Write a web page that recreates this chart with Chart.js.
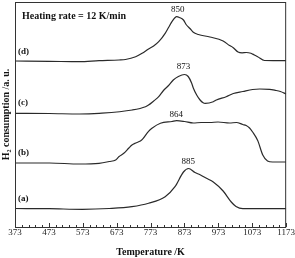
<!DOCTYPE html>
<html>
<head>
<meta charset="utf-8">
<script src="https://cdn.jsdelivr.net/npm/chart.js@4.4.1/dist/chart.umd.min.js"></script>
<style>
html,body{margin:0;padding:0;background:#fff;}
#wrap{width:295px;height:258px;}
</style>
</head>
<body>
<div id="wrap"><canvas id="c" width="295" height="258"></canvas></div>
<script>
// Temperatures (K) and H2 consumption (a.u., vertically offset traces)
const tempA = [373,475,572,651,718,767,816,845,870,885,904,919,938,958,987,1011,1025,1045,1173];
const valA  = [18.5,18.3,17.7,18.5,20.3,23.7,30.3,40.3,55,58.5,54.5,52.3,48.7,45,36,25,20.5,18.3,18.3];

const tempB = [373,475,563,621,651,670,680,694,709,718,729,743,748,767,777,802,836,850,873,899,922,948,972,1006,1026,1045,1055,1065,1074,1089,1104,1118,1133,1173];
const valB  = [64,64,63,63.7,65.5,67,70.5,73.7,79,82,84,86,87.3,95.7,98.7,103.7,105.5,106.3,105.5,104,104.5,104.5,105,104,104.5,102.5,101.5,99,95,86.5,72,66,65,65];

const tempC = [373,475,563,621,719,758,767,782,797,811,826,840,855,873,884,894,899,909,919,928,934,958,967,996,1017,1045,1074,1095,1124,1141,1156,1173];
const valC  = [113.7,113.5,113,113.7,117,120.3,122,126,130.3,136.5,141.5,147,150.5,152.5,150.5,144,139,132,127,124.3,123.7,125.3,127,130.3,133.5,135.5,137.5,138,137.7,136.7,135.5,133];

const tempD = [373,475,563,621,680,699,729,748,767,782,797,816,826,836,850,858,870,879,889,899,914,948,987,1006,1016,1031,1043,1055,1069,1079,1089,1109,1173];
const valD  = [166,165.7,165.3,166.3,167,167.5,170.3,173.7,178,181,185.3,193.7,199.5,205.3,210.3,209.5,207,202,198.5,194.7,192.5,190,186,181.5,179.5,175,174.2,174.5,173.7,172,170.3,166.5,166.3];

const xTicks = [373,473,573,673,773,873,973,1073,1173];
const traceLabels = ['(a)','(b)','(c)','(d)'];
const traceLabelLevels = [28.3,74,124.3,175.3];
const peakLabels = ['885','864','873','850'];
const peakLabelPos = [[884,65],[849,112],[870,160],[853,217]];
const headerText = 'Heating rate = 12 K/min';

const toPts = (t, v) => t.map((x, i) => ({x: x, y: v[i]}));
const lineColor = '#2a2a2a';
const serif = "'Liberation Serif', 'DejaVu Serif', serif";

const mkSet = (t, v) => ({
  data: toPts(t, v), borderColor: lineColor, borderWidth: 1.2,
  pointRadius: 0, cubicInterpolationMode: 'monotone', fill: false
});

const framePlugin = {
  id: 'frame',
  afterDraw(chart) {
    const ctx = chart.ctx, a = chart.chartArea;
    const xs = chart.scales.x, ys = chart.scales.y;
    ctx.save();
    ctx.strokeStyle = '#333';
    ctx.lineWidth = 1;
    ctx.strokeRect(a.left + 0.5, a.top + 0.5, a.right - a.left - 1, a.bottom - a.top);
    for (let t = 373; t <= 1173; t += 20) {
      const px = Math.round(xs.getPixelForValue(t)) + 0.5;
      const major = (t - 373) % 100 === 0;
      ctx.beginPath();
      ctx.moveTo(px, a.bottom);
      ctx.lineTo(px, a.bottom - (major ? 4 : 2));
      ctx.stroke();
    }
    ctx.fillStyle = '#111';
    ctx.textBaseline = 'middle';
    ctx.font = 'bold 10px ' + serif;
    ctx.textAlign = 'left';
    ctx.fillText(headerText, a.left + 7, ys.getPixelForValue(211));
    ctx.font = 'bold 9px ' + serif;
    traceLabels.forEach((l, i) => ctx.fillText(l, a.left + 3, ys.getPixelForValue(traceLabelLevels[i])));
    ctx.font = '9px ' + serif;
    ctx.textAlign = 'center';
    peakLabels.forEach((l, i) => ctx.fillText(l, xs.getPixelForValue(peakLabelPos[i][0]), ys.getPixelForValue(peakLabelPos[i][1])));
    ctx.restore();
  }
};

new Chart(document.getElementById('c'), {
  type: 'line',
  data: { datasets: [mkSet(tempA, valA), mkSet(tempB, valB), mkSet(tempC, valC), mkSet(tempD, valD)] },
  options: {
    responsive: false, animation: false, devicePixelRatio: 1,
    layout: { autoPadding: false, padding: { top: 2, right: 6, left: 0, bottom: 0 } },
    plugins: { legend: { display: false }, tooltip: { enabled: false } },
    scales: {
      x: {
        type: 'linear', min: 373, max: 1173,
        afterBuildTicks: s => { s.ticks = xTicks.map(v => ({value: v})); },
        afterFit: s => { s.height = 31; },
        grid: { display: false, drawTicks: false },
        border: { display: false },
        ticks: { color: '#222', font: { family: serif, size: 9 }, padding: 0, maxRotation: 0, autoSkip: false,
                 callback: v => String(v) },
        title: { display: true, text: 'Temperature /K', color: '#111',
                 font: { family: serif, size: 10, weight: 'bold' }, padding: { top: 0, bottom: 0 } }
      },
      y: {
        min: 0, max: 225,
        afterFit: s => { s.width = 15; },
        grid: { display: false, drawTicks: false },
        border: { display: false },
        ticks: { display: false },
        title: { display: true, text: 'H₂ consumption /a. u.', color: '#111',
                 font: { family: serif, size: 10, weight: 'bold' }, padding: { top: 0, bottom: 0 } }
      }
    }
  },
  plugins: [framePlugin]
});
</script>
</body>
</html>
